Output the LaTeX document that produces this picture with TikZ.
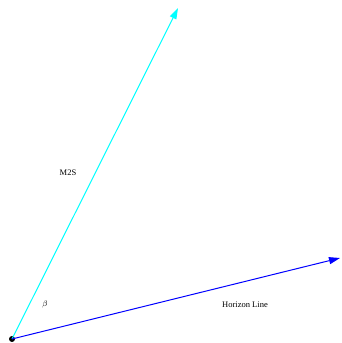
\documentclass[tikz,border=0pt]{standalone}
\usepackage{fontspec}
\setmainfont{Liberation Serif}
\usetikzlibrary{positioning,arrows.meta}
\definecolor{aqua}{RGB}{0,255,255}
\definecolor{deepblue}{RGB}{0,0,255}

\begin{document}
\begin{tikzpicture}[
    x=1pt, y=1pt,
    every node/.style={font=\fontsize{8.5}{10}\selectfont},
    vec/.style ={-{Triangle[length=11pt,width=7pt]}, line width=1pt},
    lbl/.style ={inner sep=0pt}
  ]
  \useasboundingbox (0,0) rectangle (341,343);
  \coordinate (o) at (12,4);
  \coordinate (m2s) at (178,335);
  \coordinate (hor) at (340,85);
  \fill (o) circle (3);
  \draw[vec, aqua] (o) -- (m2s);
  \draw[vec, deepblue] (o) -- (hor);
  \node[lbl] (lm2s) at (68,170) {M2S};
  \node[lbl] (beta) at (45,38)  {$\beta$};
  \node[lbl] (lhor) at (245,38) {Horizon Line};
\end{tikzpicture}
\end{document}
